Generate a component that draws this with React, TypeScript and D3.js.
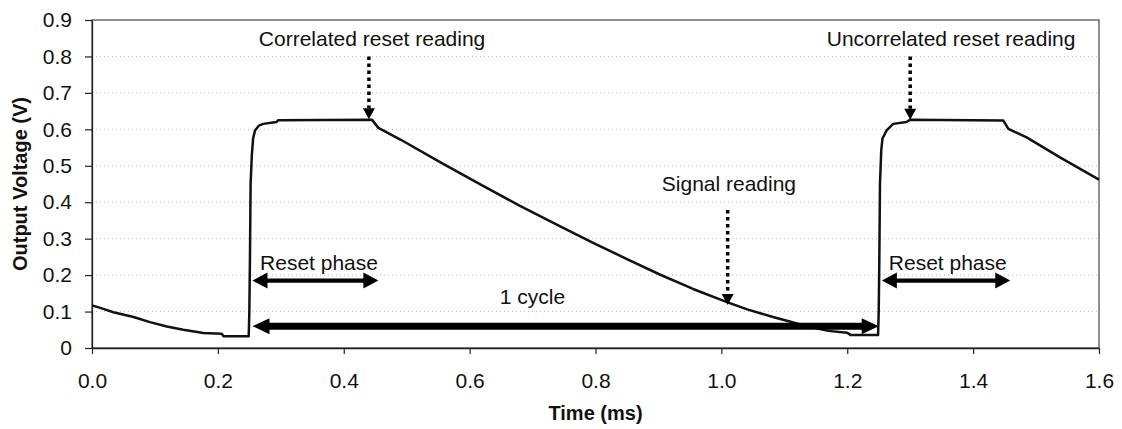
import React, { useEffect, useRef } from 'react';
import * as d3 from 'd3';

// Output voltage trace (time in ms, volts)
const timeMs = [
  0, 0.013, 0.034, 0.066, 0.092, 0.119, 0.145, 0.177, 0.206, 0.209, 0.249,
  0.250, 0.251, 0.252, 0.254, 0.256, 0.259, 0.265, 0.272, 0.293, 0.296, 0.445,
  0.455, 0.49, 0.553, 0.617, 0.68, 0.744, 0.797, 0.85, 0.903, 0.955, 1.009,
  1.041, 1.082, 1.11, 1.14, 1.17, 1.2, 1.205, 1.249,
  1.250, 1.251, 1.252, 1.254, 1.256, 1.2625, 1.273, 1.294, 1.2996, 1.448,
  1.456, 1.485, 1.538, 1.6,
];
const outputV = [
  0.117, 0.110, 0.098, 0.085, 0.071, 0.059, 0.050, 0.041, 0.039, 0.032, 0.032,
  0.10, 0.25, 0.45, 0.53, 0.575, 0.597, 0.610, 0.615, 0.620, 0.625, 0.626,
  0.604, 0.572, 0.510, 0.449, 0.390, 0.334, 0.288, 0.244, 0.201, 0.162, 0.126,
  0.106, 0.085, 0.072, 0.058, 0.047, 0.042, 0.036, 0.036,
  0.10, 0.25, 0.45, 0.542, 0.575, 0.597, 0.615, 0.620, 0.626, 0.624,
  0.601, 0.578, 0.523, 0.462,
];

const xTicks = [0, 0.2, 0.4, 0.6, 0.8, 1.0, 1.2, 1.4, 1.6];
const yTicks = [0, 0.1, 0.2, 0.3, 0.4, 0.5, 0.6, 0.7, 0.8, 0.9];

// dotted "reading" arrows: x in ms, from/to in volts
const readings = [
  { label: 'Correlated reset reading', t: 0.44, from: 0.80, to: 0.628, labelT: 0.445, labelV: 0.83 },
  { label: 'Uncorrelated reset reading', t: 1.30, from: 0.80, to: 0.626, labelT: 1.365, labelV: 0.83 },
  { label: 'Signal reading', t: 1.01, from: 0.379, to: 0.118, labelT: 1.012, labelV: 0.432 },
];

// horizontal double arrows
const spans = [
  { label: 'Reset phase', start: 0.255, end: 0.455, v: 0.185, labelT: 0.267, labelV: 0.214, heavy: false },
  { label: 'Reset phase', start: 1.255, end: 1.459, v: 0.185, labelT: 1.266, labelV: 0.214, heavy: false },
  { label: '1 cycle', start: 0.255, end: 1.25, v: 0.06, labelT: 0.648, labelV: 0.121, heavy: true },
];

const FONT = "Arial, 'Liberation Sans', Helvetica, sans-serif";
const W = 1122;
const H = 429;

const App = () => {
  const svgRef = useRef<SVGSVGElement>(null);

  useEffect(() => {
    const svg = d3.select(svgRef.current);
    svg.selectAll('*').remove();

    const left = 92, right = 1099, top = 20, bottom = 348;
    const x = d3.scaleLinear().domain([0, 1.6]).range([left, right]);
    const y = d3.scaleLinear().domain([0, 0.9]).range([bottom, top]);

    // faint dotted gridlines
    svg.append('g')
      .selectAll('line')
      .data(yTicks.filter(v => v > 0 && v < 0.9))
      .join('line')
      .attr('x1', left)
      .attr('x2', right)
      .attr('y1', d => y(d))
      .attr('y2', d => y(d))
      .attr('stroke', '#bbb')
      .attr('stroke-width', 1)
      .attr('stroke-dasharray', '1 3');

    // plot frame
    svg.append('rect')
      .attr('x', left)
      .attr('y', top)
      .attr('width', right - left)
      .attr('height', bottom - top)
      .attr('fill', 'none')
      .attr('stroke', '#444')
      .attr('stroke-width', 1.2);

    const xAxis = d3.axisBottom(x)
      .tickValues(xTicks)
      .tickFormat(d3.format('.1f'))
      .tickSize(6)
      .tickSizeOuter(0)
      .tickPadding(19);
    const gx = svg.append('g').attr('transform', `translate(0,${bottom})`).call(xAxis);

    const yAxis = d3.axisLeft(y)
      .tickValues(yTicks)
      .tickFormat(d => (+d === 0 ? '0' : d3.format('.1f')(+d)))
      .tickSize(7)
      .tickSizeOuter(0)
      .tickPadding(13);
    const gy = svg.append('g').attr('transform', `translate(${left},0)`).call(yAxis);

    [gx, gy].forEach(g => {
      g.select('.domain').attr('stroke', '#222').attr('stroke-width', 1.3);
      g.selectAll('.tick line').attr('stroke', '#222').attr('stroke-width', 1.2);
      g.selectAll('.tick text')
        .attr('font-family', FONT)
        .attr('font-size', 21)
        .attr('fill', '#111');
    });

    // axis titles
    svg.append('text')
      .attr('transform', `translate(27,${(top + bottom) / 2}) rotate(-90)`)
      .attr('text-anchor', 'middle')
      .attr('font-family', FONT)
      .attr('font-weight', 'bold')
      .attr('font-size', 20)
      .attr('fill', '#111')
      .text('Output Voltage (V)');

    svg.append('text')
      .attr('x', (left + right) / 2)
      .attr('y', 420)
      .attr('text-anchor', 'middle')
      .attr('font-family', FONT)
      .attr('font-weight', 'bold')
      .attr('font-size', 20)
      .attr('fill', '#111')
      .text('Time (ms)');

    // voltage trace
    const points = timeMs.map((t, i) => [t, outputV[i]] as [number, number]);
    const line = d3.line<[number, number]>()
      .x(d => x(d[0]))
      .y(d => y(d[1]));
    svg.append('path')
      .datum(points)
      .attr('d', line)
      .attr('fill', 'none')
      .attr('stroke', '#111')
      .attr('stroke-width', 2.5)
      .attr('stroke-linejoin', 'round');

    // double-headed horizontal arrows
    spans.forEach(s => {
      const x1 = x(s.start), x2 = x(s.end), yy = y(s.v);
      const shaft = s.heavy ? 7 : 4.3;
      const headLen = s.heavy ? 17 : 15;
      const headH = 16;
      svg.append('line')
        .attr('x1', x1 + headLen - 1)
        .attr('x2', x2 - headLen + 1)
        .attr('y1', yy)
        .attr('y2', yy)
        .attr('stroke', '#000')
        .attr('stroke-width', shaft);
      svg.append('path')
        .attr('d', `M${x1},${yy}L${x1 + headLen},${yy - headH / 2}L${x1 + headLen},${yy + headH / 2}Z` +
          `M${x2},${yy}L${x2 - headLen},${yy - headH / 2}L${x2 - headLen},${yy + headH / 2}Z`)
        .attr('fill', '#000');
      svg.append('text')
        .attr('x', x(s.labelT))
        .attr('y', y(s.labelV))
        .attr('font-family', FONT)
        .attr('font-size', 21)
        .attr('fill', '#111')
        .text(s.label);
    });

    // dotted reading arrows
    readings.forEach(r => {
      const xx = x(r.t), y1 = y(r.from), tip = y(r.to);
      const headH = 11, headW = 12;
      svg.append('line')
        .attr('x1', xx)
        .attr('x2', xx)
        .attr('y1', y1)
        .attr('y2', tip - headH)
        .attr('stroke', '#000')
        .attr('stroke-width', 3.5)
        .attr('stroke-dasharray', '3.5 3.5');
      svg.append('path')
        .attr('d', `M${xx - headW / 2},${tip - headH}L${xx + headW / 2},${tip - headH}L${xx},${tip}Z`)
        .attr('fill', '#000');
      svg.append('text')
        .attr('x', x(r.labelT))
        .attr('y', y(r.labelV))
        .attr('text-anchor', 'middle')
        .attr('font-family', FONT)
        .attr('font-size', 21)
        .attr('fill', '#111')
        .text(r.label);
    });
  }, []);

  return (
    <svg
      ref={svgRef}
      width={W}
      height={H}
      style={{ position: 'absolute', left: 0, top: 0, background: '#fff' }}
    />
  );
};

export default App;
